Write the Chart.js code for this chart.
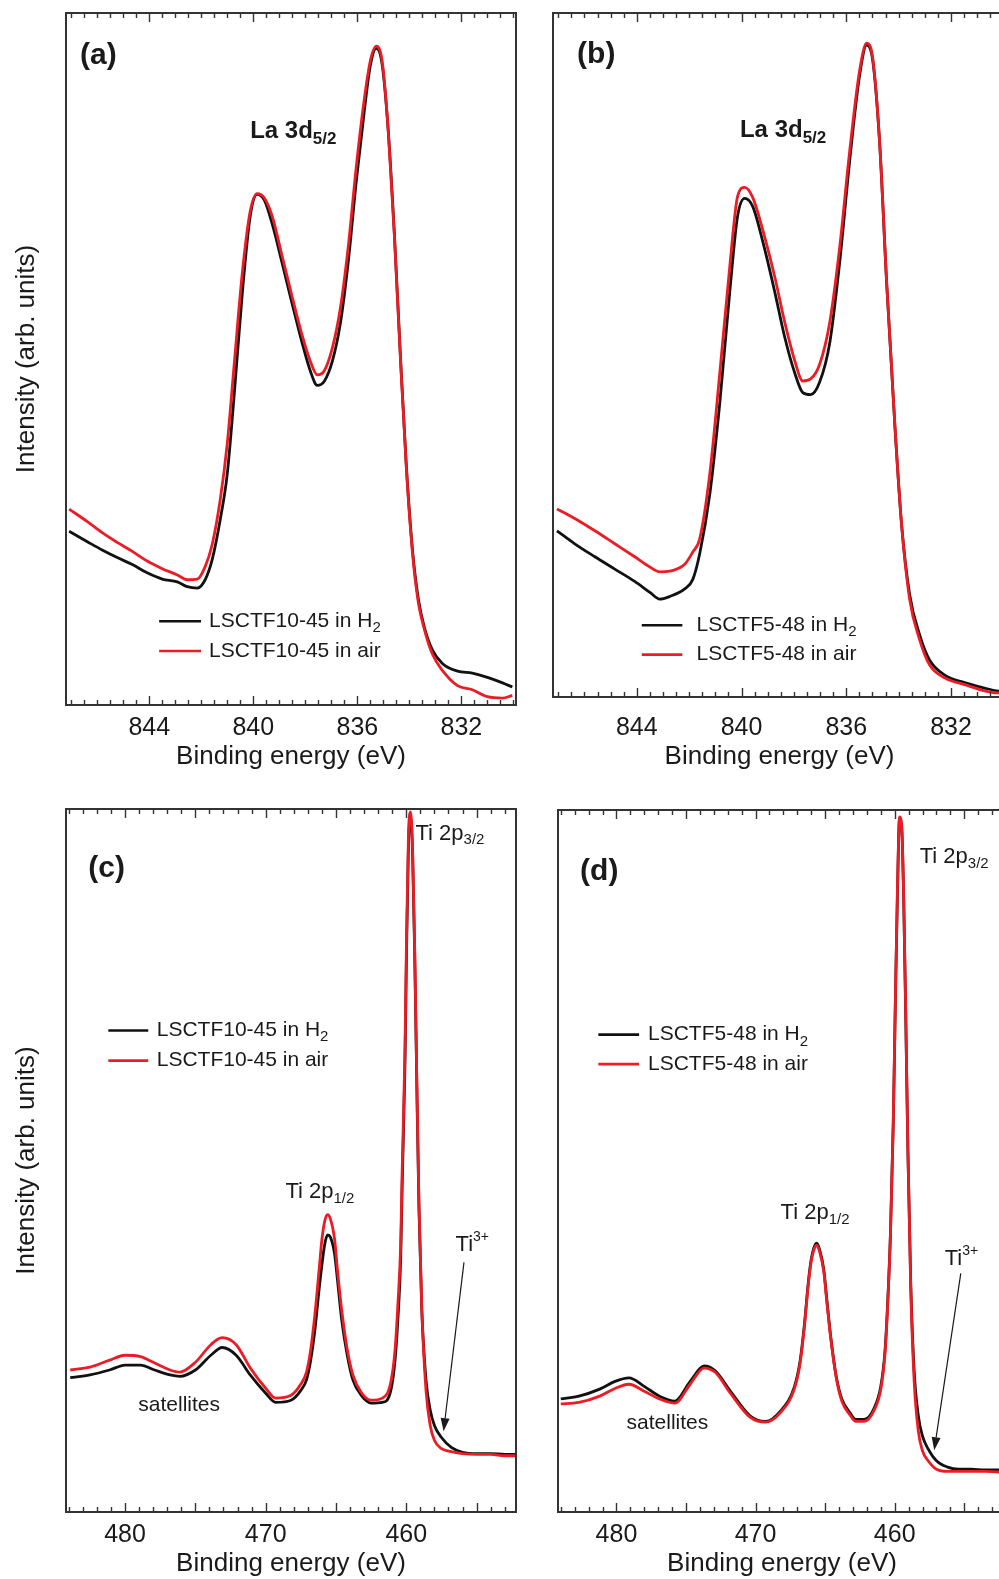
<!DOCTYPE html>
<html>
<head>
<meta charset="utf-8">
<script src="https://cdn.jsdelivr.net/npm/chart.js@4.4.1/dist/chart.umd.min.js"></script>
<style>
  html, body { margin: 0; padding: 0; background: #fff; width: 999px; height: 1579px; overflow: hidden; position: relative; }
  canvas { position: absolute; }
</style>
</head>
<body>
<canvas id="panelA" width="540" height="770" style="left:0;top:0"></canvas>
<canvas id="panelB" width="500" height="770" style="left:530px;top:0"></canvas>
<canvas id="panelC" width="540" height="787" style="left:0;top:790px"></canvas>
<canvas id="panelD" width="500" height="787" style="left:530px;top:790px"></canvas>
<script>
// La 3d5/2 region, LSCTF10-45
const laEnergyA = [847.08, 846.38, 845.81, 845.23, 844.65, 844.08, 843.50, 842.92, 842.54, 842.15, 841.85, 841.58, 841.27, 841.00, 840.73, 840.42, 840.12, 839.85, 839.58, 839.27, 838.88, 838.50, 838.12, 837.81, 837.54, 837.27, 836.96, 836.65, 836.35, 836.04, 835.73, 835.50, 835.27, 835.04, 834.81, 834.58, 834.35, 834.12, 833.88, 833.65, 833.42, 833.12, 832.73, 832.15, 831.58, 831.00, 830.42, 830.04];
const laH2A = [25.1, 23.6, 22.4, 21.3, 20.3, 19.1, 18.2, 17.8, 17.1, 16.9, 18.1, 21.0, 26.8, 33.4, 45.0, 59.6, 70.6, 73.8, 73.0, 69.5, 63.7, 57.9, 52.3, 48.3, 46.2, 46.8, 49.7, 55.2, 64.0, 75.7, 85.9, 92.4, 94.9, 92.4, 82.9, 68.4, 50.9, 34.8, 22.4, 15.2, 11.2, 8.0, 6.0, 4.9, 4.6, 4.0, 3.2, 2.6];
const laAirA = [28.3, 26.5, 24.9, 23.5, 22.2, 20.8, 19.7, 18.8, 18.1, 18.2, 20.0, 23.2, 29.7, 37.8, 49.4, 62.5, 71.3, 73.9, 73.3, 70.6, 64.7, 58.9, 53.4, 49.7, 47.7, 48.3, 51.6, 57.4, 66.2, 77.8, 87.6, 93.1, 95.2, 92.9, 82.9, 68.1, 50.6, 34.5, 22.0, 14.7, 10.9, 7.4, 5.0, 2.8, 2.2, 1.2, 1.0, 1.4];

// La 3d5/2 region, LSCTF5-48
const laEnergyB = [847.05, 846.37, 845.60, 844.84, 844.08, 843.50, 843.12, 842.74, 842.17, 841.86, 841.60, 841.21, 840.83, 840.45, 840.15, 839.88, 839.57, 839.19, 838.73, 838.35, 837.97, 837.66, 837.36, 837.02, 836.63, 836.25, 835.87, 835.49, 835.22, 834.99, 834.73, 834.46, 834.15, 833.89, 833.58, 833.20, 832.82, 832.24, 831.48, 830.72, 830.26, 830.00];
const laH2B = [24.3, 22.4, 20.5, 18.7, 16.9, 15.3, 14.3, 14.7, 15.8, 17.2, 20.9, 29.7, 43.0, 59.2, 70.3, 72.9, 71.7, 66.6, 59.2, 52.6, 47.4, 44.5, 44.2, 46.0, 51.8, 63.6, 78.4, 90.9, 95.3, 93.1, 81.3, 60.7, 40.1, 25.3, 15.0, 9.1, 5.4, 3.2, 2.1, 1.3, 0.9, 0.8];
const laAirB = [27.5, 26.1, 24.3, 22.4, 20.5, 19.0, 18.3, 18.4, 19.4, 21.2, 23.1, 32.7, 47.4, 62.9, 73.2, 74.5, 73.0, 68.3, 61.4, 54.8, 49.2, 46.2, 46.5, 48.6, 54.8, 65.8, 79.8, 91.6, 95.6, 93.4, 81.3, 60.7, 40.1, 25.3, 14.3, 8.4, 4.7, 2.8, 1.8, 0.9, 0.6, 0.6];

// Ti 2p region, LSCTF10-45
const tiEnergyC = [483.9, 482.5, 481.1, 480.0, 478.9, 477.9, 476.8, 476.1, 475.0, 473.9, 473.1, 472.1, 471.1, 470.0, 469.3, 468.2, 467.5, 467.1, 466.8, 466.5, 466.2, 466.0, 465.8, 465.6, 465.4, 465.1, 464.9, 464.6, 464.2, 463.8, 463.2, 462.5, 461.7, 461.1, 460.8, 460.6, 460.4, 460.3, 460.1, 460.0, 459.85, 459.7, 459.55, 459.4, 459.25, 459.1, 458.9, 458.6, 458.3, 458.0, 457.5, 456.8, 456.0, 455.0, 454.0, 453.0, 452.0];
const tiH2C = [19.1, 19.5, 20.2, 20.9, 20.9, 20.2, 19.5, 19.3, 20.2, 22.3, 23.4, 22.3, 19.5, 16.9, 15.6, 15.9, 17.3, 18.8, 21.6, 25.9, 31.7, 35.2, 38.1, 39.4, 39.1, 36.7, 33.1, 27.4, 22.3, 18.8, 16.6, 15.5, 15.6, 17.3, 21.6, 27.4, 36.0, 46.0, 63.2, 77.5, 94.7, 99.0, 93.3, 78.9, 60.3, 43.1, 28.8, 18.8, 14.5, 12.3, 10.6, 9.2, 8.5, 8.3, 8.3, 8.2, 8.2];
const tiAirC = [20.2, 20.6, 21.6, 22.3, 22.1, 21.2, 20.2, 19.9, 21.3, 23.8, 24.8, 23.8, 20.5, 17.6, 16.2, 16.6, 18.2, 19.9, 23.1, 28.1, 34.5, 38.8, 41.4, 42.3, 41.7, 38.8, 34.5, 28.8, 23.1, 19.5, 17.0, 15.9, 16.2, 18.5, 23.1, 29.5, 38.1, 48.1, 65.3, 79.7, 96.1, 99.6, 94.0, 79.7, 61.0, 43.8, 28.8, 17.3, 12.3, 10.2, 9.0, 8.6, 8.3, 8.2, 8.2, 8.0, 8.0];

// Ti 2p region, LSCTF5-48
const tiEnergyD = [484.0, 482.7, 481.2, 480.1, 479.1, 478.0, 476.9, 475.8, 474.7, 473.7, 472.9, 471.8, 470.4, 469.3, 468.2, 467.2, 466.8, 466.5, 466.2, 466.0, 465.8, 465.6, 465.4, 465.1, 464.9, 464.6, 464.2, 463.8, 463.2, 462.8, 462.2, 461.5, 461.0, 460.7, 460.5, 460.3, 460.1, 459.95, 459.8, 459.65, 459.5, 459.35, 459.2, 459.05, 458.85, 458.6, 458.3, 458.0, 457.6, 457.0, 456.2, 455.4, 454.5, 453.5, 452.5, 452.0];
const tiH2D = [16.1, 16.5, 17.5, 18.6, 19.1, 17.9, 16.5, 15.8, 18.6, 20.8, 20.1, 17.2, 13.7, 12.9, 14.4, 17.9, 21.5, 26.5, 32.9, 36.0, 37.7, 38.3, 37.4, 34.6, 30.7, 25.0, 19.3, 16.1, 14.1, 13.2, 13.2, 14.7, 17.9, 22.9, 30.0, 40.0, 55.6, 72.7, 88.3, 98.8, 97.6, 86.9, 69.8, 51.4, 32.9, 20.1, 13.7, 10.8, 9.0, 7.3, 6.4, 6.1, 6.1, 6.0, 6.0, 6.0];
const tiAirD = [15.4, 15.6, 16.5, 17.6, 18.2, 17.2, 16.1, 15.5, 18.2, 20.5, 19.9, 16.9, 13.5, 12.8, 14.2, 17.6, 21.2, 26.2, 32.6, 35.7, 37.4, 38.0, 37.1, 34.3, 30.4, 24.8, 19.1, 15.8, 13.8, 12.9, 12.9, 14.4, 17.5, 22.5, 29.7, 40.0, 55.9, 73.4, 89.0, 99.0, 97.8, 87.2, 70.1, 51.4, 32.1, 18.6, 11.5, 8.7, 7.3, 6.1, 5.8, 5.8, 5.8, 5.8, 5.7, 5.7];

// axis labels
const laTicks = [844, 840, 836, 832];
const tiTicks = [480, 470, 460];

const FONT = '"Liberation Sans", Arial, Helvetica, sans-serif';
const INK = '#1a1a1a';
const RED = '#ec1c24';
const BLACK = '#111111';

const pair = (xs, ys) => xs.map((x, i) => ({ x, y: ys[i] }));

// frame box plus inward minor/major ticks on top and bottom
const frameTicks = {
  id: 'frameTicks',
  afterDraw(chart, args, opts) {
    const { ctx, chartArea: a, scales: { x } } = chart;
    ctx.save();
    ctx.strokeStyle = '#333';
    ctx.lineWidth = 1.4;
    const lo = Math.min(x.min, x.max), hi = Math.max(x.min, x.max);
    const perMajor = Math.round(opts.major / opts.minor);
    for (let n = Math.ceil(lo / opts.minor); n * opts.minor <= hi + 1e-9; n++) {
      const px = Math.round(x.getPixelForValue(n * opts.minor)) + 0.5;
      const len = n % perMajor === 0 ? 9 : 5;
      ctx.beginPath();
      ctx.moveTo(px, a.bottom); ctx.lineTo(px, a.bottom - len);
      ctx.moveTo(px, a.top); ctx.lineTo(px, a.top + len);
      ctx.stroke();
    }
    ctx.lineWidth = 2;
    ctx.strokeRect(a.left, a.top, a.right - a.left, a.bottom - a.top);
    ctx.restore();
  }
};

// runs of text where parts may be subscript or superscript
function drawRich(ctx, x, y, parts) {
  let cx = x;
  for (const p of parts) {
    ctx.font = `${p.bold ? 'bold ' : ''}${p.size}px ${FONT}`;
    ctx.fillText(p.t, cx, y + (p.dy || 0));
    cx += ctx.measureText(p.t).width;
  }
}

// panel labels, legends, peak names and arrows, placed in data coordinates
const notes = {
  id: 'notes',
  afterDraw(chart, args, opts) {
    const { ctx, scales: { x, y } } = chart;
    ctx.save();
    ctx.textBaseline = 'middle';
    ctx.textAlign = 'left';
    for (const it of opts.items) {
      if (it.kind === 'text') {
        ctx.fillStyle = INK;
        drawRich(ctx, x.getPixelForValue(it.x), y.getPixelForValue(it.y), it.parts);
      } else if (it.kind === 'key') {
        const py = y.getPixelForValue(it.y);
        ctx.strokeStyle = it.color;
        ctx.lineWidth = 2.6;
        ctx.beginPath();
        ctx.moveTo(x.getPixelForValue(it.x0), py);
        ctx.lineTo(x.getPixelForValue(it.x1), py);
        ctx.stroke();
        ctx.fillStyle = INK;
        drawRich(ctx, x.getPixelForValue(it.xt), py, it.parts);
      } else if (it.kind === 'arrow') {
        const x0 = x.getPixelForValue(it.from[0]), y0 = y.getPixelForValue(it.from[1]);
        const x1 = x.getPixelForValue(it.to[0]), y1 = y.getPixelForValue(it.to[1]);
        const ang = Math.atan2(y1 - y0, x1 - x0);
        const head = 13, half = 4.5;
        const bx = x1 - head * Math.cos(ang), by = y1 - head * Math.sin(ang);
        ctx.strokeStyle = INK;
        ctx.fillStyle = INK;
        ctx.lineWidth = 1.2;
        ctx.beginPath();
        ctx.moveTo(x0, y0); ctx.lineTo(bx, by);
        ctx.stroke();
        ctx.beginPath();
        ctx.moveTo(x1, y1);
        ctx.lineTo(bx + half * Math.sin(ang), by - half * Math.cos(ang));
        ctx.lineTo(bx - half * Math.sin(ang), by + half * Math.cos(ang));
        ctx.closePath();
        ctx.fill();
      }
    }
    ctx.restore();
  }
};

const tag = (t, x, y) => ({ kind: 'text', x, y, parts: [{ t, size: 30, bold: true }] });
const sub = (t, size) => ({ t, size, dy: size * 0.45 });
const sup = (t, size) => ({ t, size, dy: -size * 0.55 });
const keyH2 = (name, x0, x1, xt, y) => ({ kind: 'key', color: BLACK, x0, x1, xt, y,
  parts: [{ t: name + ' in H', size: 21 }, sub('2', 15)] });
const keyAir = (name, x0, x1, xt, y) => ({ kind: 'key', color: RED, x0, x1, xt, y,
  parts: [{ t: name + ' in air', size: 21 }] });
const laLabel = (x, y) => ({ kind: 'text', x, y,
  parts: [{ t: 'La 3d', size: 24, bold: true }, { t: '5/2', size: 17, bold: true, dy: 8 }] });
const tiLabel = (t, x, y) => ({ kind: 'text', x, y, parts: [{ t: 'Ti 2p', size: 22 }, sub(t, 15)] });
const ti3Label = (x, y) => ({ kind: 'text', x, y, parts: [{ t: 'Ti', size: 22 }, sup('3+', 14)] });
const satLabel = (x, y) => ({ kind: 'text', x, y, parts: [{ t: 'satellites', size: 21 }] });

function makePanel(id, p) {
  return new Chart(document.getElementById(id), {
    type: 'line',
    data: {
      datasets: [
        { label: p.name + ' in air', data: pair(p.energy, p.air), borderColor: RED },
        { label: p.name + ' in H2', data: pair(p.energy, p.h2), borderColor: BLACK }
      ]
    },
    options: {
      responsive: false,
      animation: false,
      devicePixelRatio: 1,
      layout: { padding: p.padding },
      elements: {
        point: { radius: 0 },
        line: { borderWidth: 2.8, cubicInterpolationMode: 'monotone', fill: false }
      },
      plugins: {
        legend: { display: false },
        tooltip: { enabled: false },
        frameTicks: { minor: p.minor, major: p.major },
        notes: { items: p.notes }
      },
      scales: {
        x: {
          type: 'linear',
          reverse: true,
          min: p.range[0],
          max: p.range[1],
          grid: { display: false, drawTicks: false },
          border: { display: false },
          afterBuildTicks: axis => { axis.ticks = p.ticks.map(v => ({ value: v })); },
          ticks: { color: INK, padding: p.tickPad, maxRotation: 0, autoSkip: false,
            font: { family: FONT, size: 25, lineHeight: 1 } },
          title: { display: true, text: 'Binding energy (eV)', color: INK,
            font: { family: FONT, size: 26, lineHeight: 1 }, padding: { top: p.titlePad, bottom: 0 } }
        },
        y: {
          min: 0,
          max: 100,
          grid: { display: false, drawTicks: false },
          border: { display: false },
          ticks: { display: false },
          title: { display: p.yTitle, text: 'Intensity (arb. units)', color: INK,
            font: { family: FONT, size: 26, lineHeight: 1 }, padding: { top: 14, bottom: 26 } }
        }
      }
    },
    plugins: [frameTicks, notes]
  });
}

makePanel('panelA', {
  name: 'LSCTF10-45', energy: laEnergyA, h2: laH2A, air: laAirA,
  range: [829.9, 847.2], ticks: laTicks, minor: 0.5, major: 4, yTitle: true,
  tickPad: 10.5, titlePad: -7,
  padding: { left: 0, right: 24, top: 13, bottom: 0 },
  notes: [
    tag('(a)', 846.66, 93.8),
    laLabel(840.12, 82.9),
    keyH2('LSCTF10-45', 843.62, 842.01, 841.7, 12.1),
    keyAir('LSCTF10-45', 843.62, 842.01, 841.7, 7.8)
  ]
});

makePanel('panelB', {
  name: 'LSCTF5-48', energy: laEnergyB, h2: laH2B, air: laAirB,
  range: [829.9, 847.2], ticks: laTicks, minor: 0.5, major: 4, yTitle: false,
  tickPad: 18.5, titlePad: -15,
  padding: { left: 23, right: 24, top: 13, bottom: 0 },
  notes: [
    tag('(b)', 846.28, 93.9),
    laLabel(840.06, 82.9),
    keyH2('LSCTF5-48', 843.81, 842.26, 841.72, 10.5),
    keyAir('LSCTF5-48', 843.81, 842.26, 841.72, 6.2)
  ]
});

makePanel('panelC', {
  name: 'LSCTF10-45', energy: tiEnergyC, h2: tiH2C, air: tiAirC,
  range: [452.2, 484.2], ticks: tiTicks, minor: 1, major: 5, yTitle: true,
  tickPad: 10.5, titlePad: -7,
  padding: { left: 0, right: 24, top: 19, bottom: 0 },
  notes: [
    tag('(c)', 482.61, 91.5),
    keyH2('LSCTF10-45', 481.19, 478.35, 477.75, 68.5),
    keyAir('LSCTF10-45', 481.19, 478.35, 477.75, 64.2),
    tiLabel('3/2', 459.35, 96.5),
    tiLabel('1/2', 468.6, 45.5),
    ti3Label(456.5, 38.0),
    { kind: 'arrow', from: [455.9, 35.5], to: [457.35, 11.5] },
    satLabel(479.06, 15.2)
  ]
});

makePanel('panelD', {
  name: 'LSCTF5-48', energy: tiEnergyD, h2: tiH2D, air: tiAirD,
  range: [452.0, 484.2], ticks: tiTicks, minor: 1, major: 5, yTitle: false,
  tickPad: 10.5, titlePad: -7,
  padding: { left: 28, right: 24, top: 20, bottom: 0 },
  notes: [
    tag('(d)', 482.61, 91.2),
    keyH2('LSCTF5-48', 481.3, 478.37, 477.73, 68.0),
    keyAir('LSCTF5-48', 481.3, 478.37, 477.73, 63.8),
    tiLabel('3/2', 458.2, 93.3),
    tiLabel('1/2', 468.2, 42.6),
    ti3Label(456.41, 36.0),
    { kind: 'arrow', from: [455.25, 34.0], to: [457.16, 8.8] },
    satLabel(479.27, 12.7)
  ]
});
</script>
</body>
</html>
